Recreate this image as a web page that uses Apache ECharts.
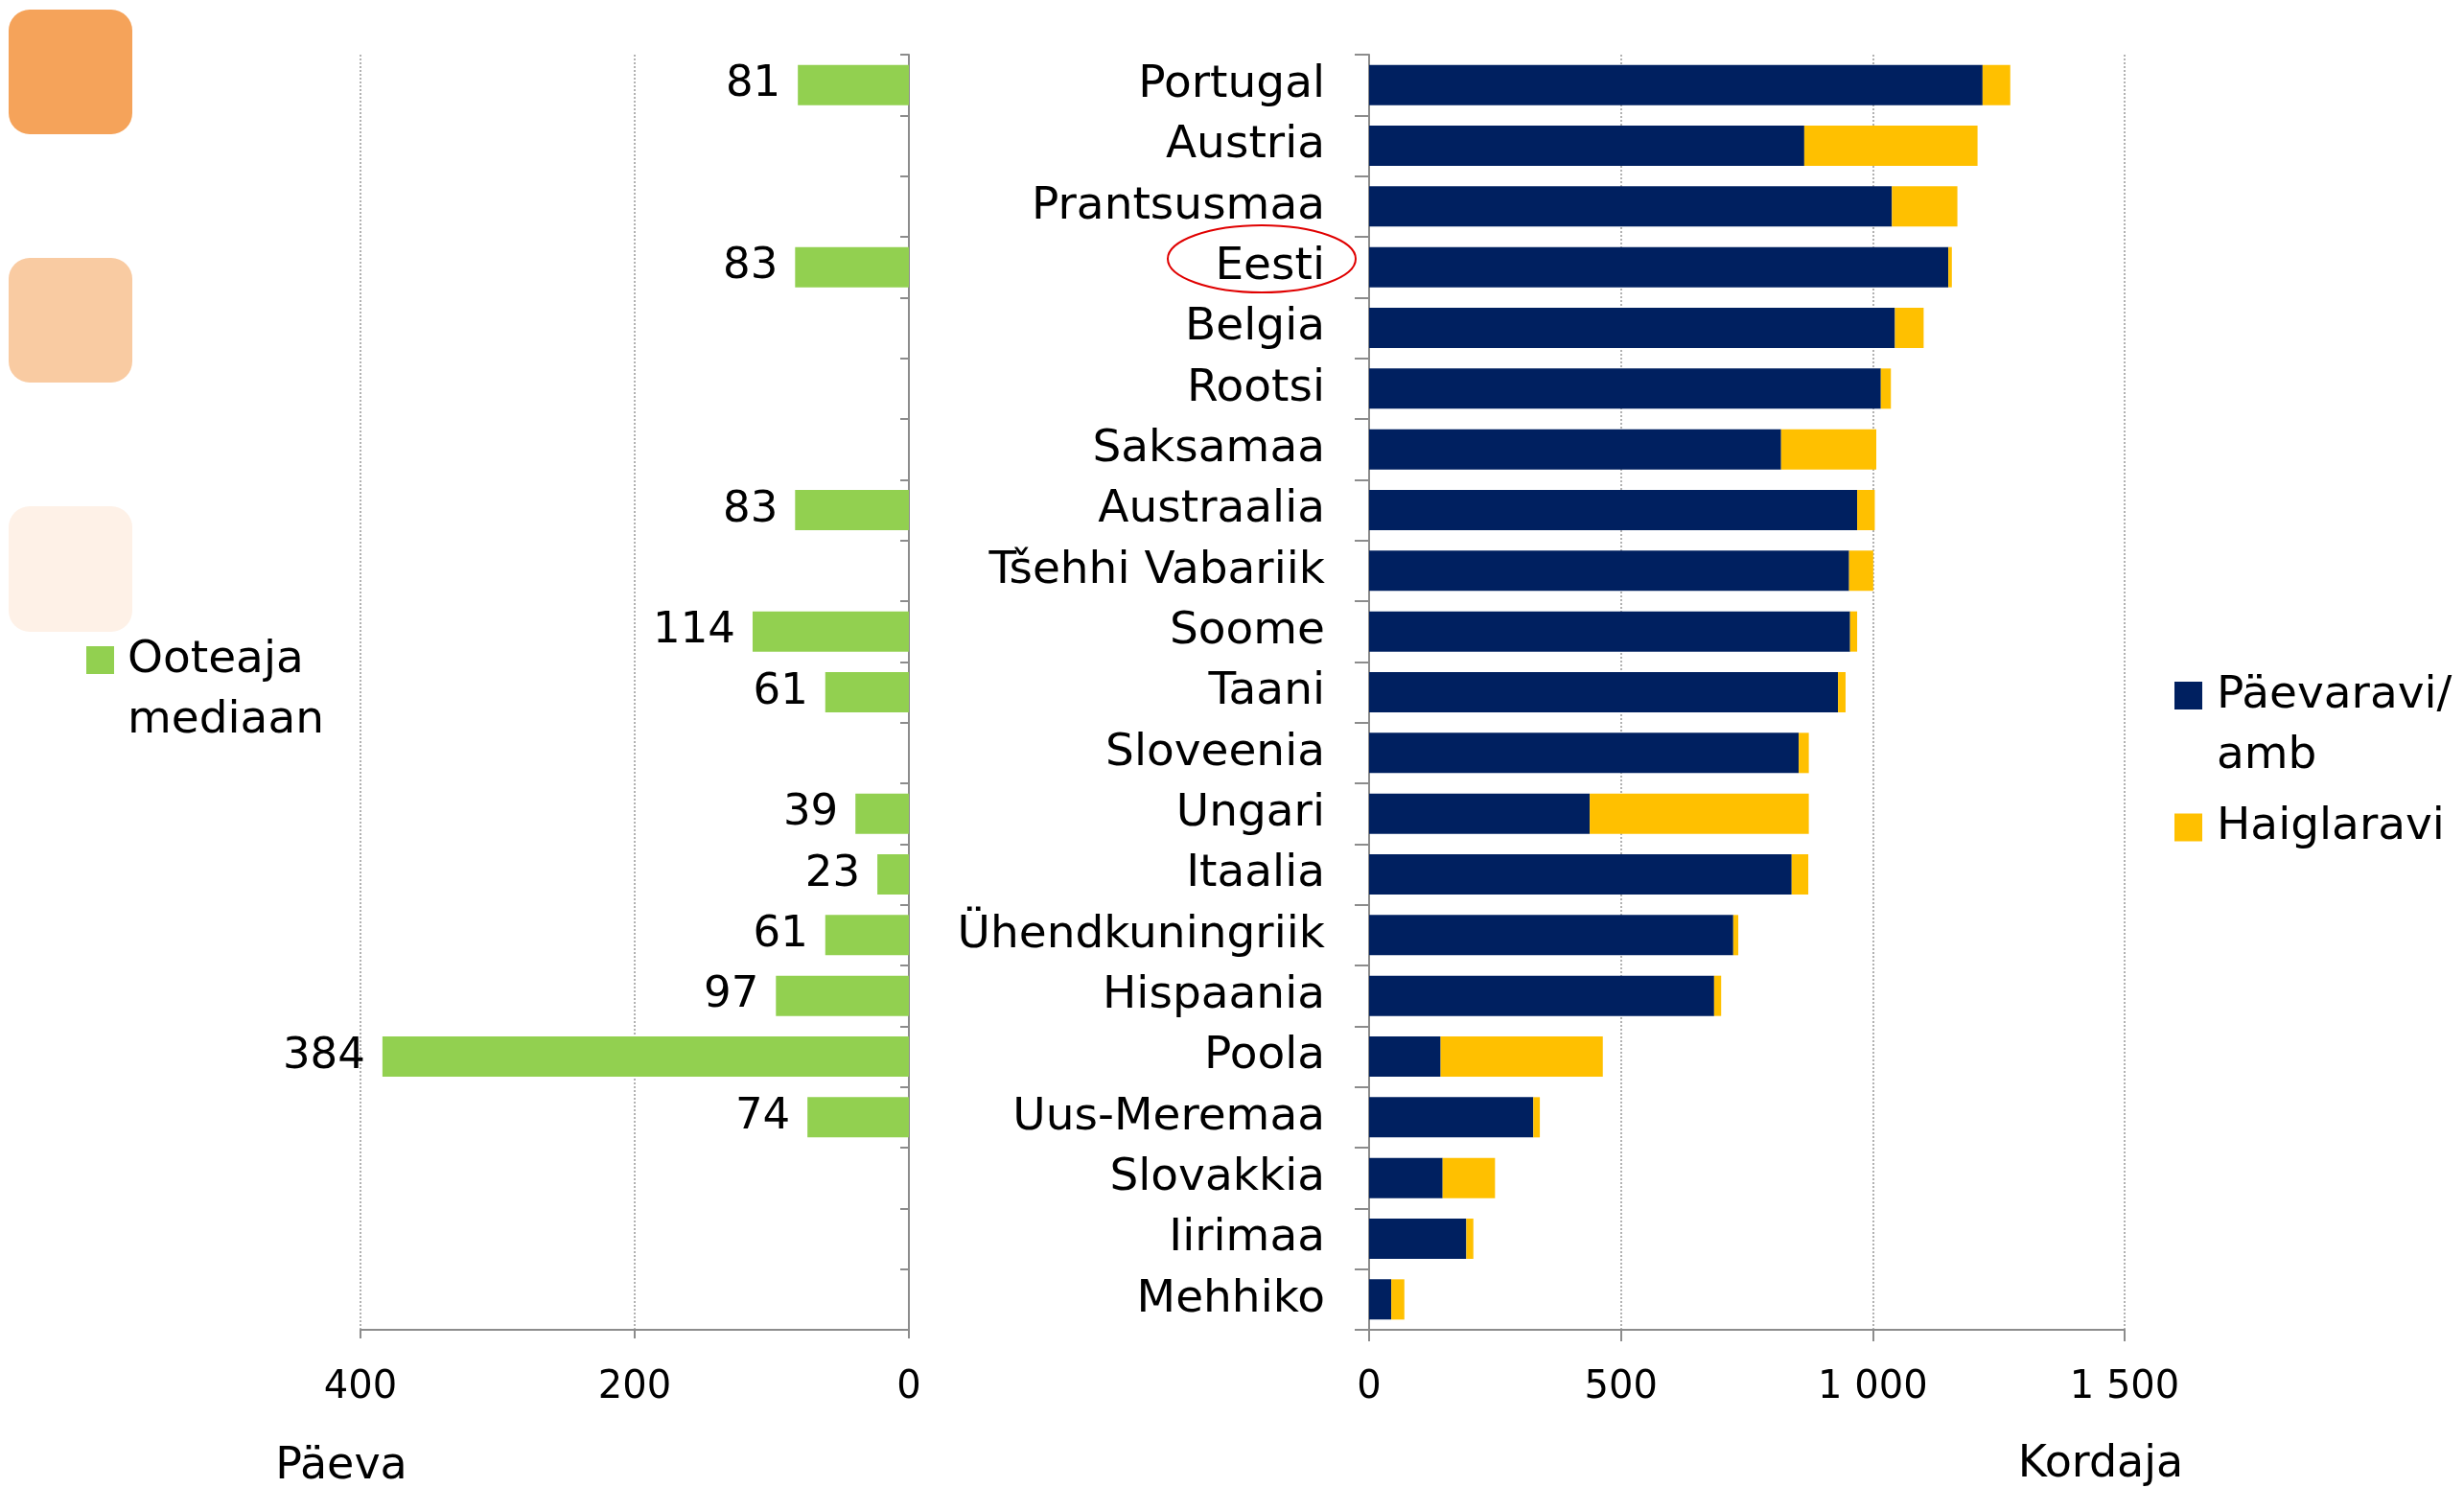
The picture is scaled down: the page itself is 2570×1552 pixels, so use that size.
<!DOCTYPE html>
<html><head><meta charset="utf-8">
<script src="https://cdn.jsdelivr.net/npm/echarts@6/dist/echarts.min.js"></script>
<style>html,body{margin:0;padding:0;background:#fff}#c{width:2570px;height:1552px}</style>
</head><body><div id="c"></div>
<script>
// ---- data ----
const categories = ['Portugal','Austria','Prantsusmaa','Eesti','Belgia','Rootsi','Saksamaa','Austraalia','Tšehhi Vabariik','Soome','Taani','Sloveenia','Ungari','Itaalia','Ühendkuningriik','Hispaania','Poola','Uus-Meremaa','Slovakkia','Iirimaa','Mehhiko'];
const paevaravi = [1218,864,1038,1150,1044,1016,818,969,953,955,931,853,438,839,723,685,142,326,146,193,44];
const haiglaravi = [55,344,130,7,57,20,189,35,48,14,15,20,435,33,10,14,322,13,104,14,26];
const ooteajaMediaan = [81,null,null,83,null,null,null,83,null,114,61,null,39,23,61,97,384,74,null,null,null];
const leftAxisTicks = [0, 200, 400];
const rightAxisTicks = [0, 500, 1000, 1500];
const seriesNames = ['Ooteaja mediaan', 'Päevaravi/amb', 'Haiglaravi'];
const legendLabels = {'Ooteaja mediaan': '\nOoteaja\nmediaan', 'Päevaravi/amb': '\nPäevaravi/\namb', 'Haiglaravi': 'Haiglaravi'};
const axisTitles = ['Päeva', 'Kordaja'];

// ---- chart ----
const FONT = '"DejaVu Sans", sans-serif';
const AXIS_COLOR = '#8c8c8c';
const chart = echarts.init(document.getElementById('c'), null, {renderer: 'canvas'});
const fmtNum = v => String(v).replace(/\B(?=(\d{3})+(?!\d))/g, ' ');

const option = {
  animation: false,
  backgroundColor: '#ffffff',
  textStyle: {fontFamily: FONT, color: '#000'},
  grid: [
    {left: 376, top: 57, width: 572, height: 1330},
    {left: 1428, top: 57, width: 788, height: 1330}
  ],
  xAxis: [
    {
      type: 'value', gridIndex: 0, inverse: true,
      min: leftAxisTicks[0], max: leftAxisTicks[leftAxisTicks.length - 1], interval: leftAxisTicks[1] - leftAxisTicks[0],
      axisLine: {show: true, lineStyle: {color: AXIS_COLOR, width: 2}},
      axisTick: {show: true, length: 9, lineStyle: {color: AXIS_COLOR, width: 2}},
      splitLine: {show: true, lineStyle: {color: '#999', type: [2, 2], width: 1.5}},
      axisLabel: {fontSize: 40, margin: 41, color: '#000', fontFamily: FONT, formatter: fmtNum}
    },
    {
      type: 'value', gridIndex: 1,
      min: rightAxisTicks[0], max: rightAxisTicks[rightAxisTicks.length - 1], interval: rightAxisTicks[1] - rightAxisTicks[0],
      axisLine: {show: true, lineStyle: {color: AXIS_COLOR, width: 2}},
      axisTick: {show: true, length: 12, lineStyle: {color: AXIS_COLOR, width: 2}},
      splitLine: {show: true, lineStyle: {color: '#999', type: [2, 2], width: 1.5}},
      axisLabel: {fontSize: 40, margin: 41, color: '#000', fontFamily: FONT, formatter: fmtNum}
    }
  ],
  yAxis: [
    {
      type: 'category', gridIndex: 0, data: categories, inverse: true, position: 'right',
      axisLine: {show: true, lineStyle: {color: AXIS_COLOR, width: 2}},
      axisTick: {show: true, inside: true, length: 9, lineStyle: {color: AXIS_COLOR, width: 2}},
      axisLabel: {show: false},
      splitLine: {show: false}
    },
    {
      type: 'category', gridIndex: 1, data: categories, inverse: true,
      axisLine: {show: true, lineStyle: {color: AXIS_COLOR, width: 2}},
      axisTick: {show: true, length: 15, lineStyle: {color: AXIS_COLOR, width: 2}},
      axisLabel: {fontSize: 47, margin: 46, color: '#000', fontFamily: FONT, padding: [7, 0, 0, 0]},
      splitLine: {show: false}
    }
  ],
  legend: [
    {
      orient: 'vertical', left: 90, top: 594, padding: 0,
      itemWidth: 29, itemHeight: 29, icon: 'rect',
      data: [{name: seriesNames[0]}],
      formatter: n => legendLabels[n],
      textStyle: {fontSize: 47, lineHeight: 63, color: '#000', fontFamily: FONT, padding: [0, 0, 0, 9]}
    },
    {
      orient: 'vertical', left: 2268, top: 631, padding: 0, itemGap: 11.5,
      itemWidth: 29, itemHeight: 29, icon: 'rect',
      data: [{name: seriesNames[1]}, {name: seriesNames[2]}],
      formatter: n => legendLabels[n],
      textStyle: {fontSize: 47, lineHeight: 63, color: '#000', fontFamily: FONT, padding: [0, 0, 0, 10]}
    }
  ],
  series: [
    {
      name: seriesNames[0], type: 'bar', xAxisIndex: 0, yAxisIndex: 0,
      data: ooteajaMediaan, barWidth: 42,
      itemStyle: {color: '#92D050'},
      label: {show: true, position: 'left', distance: 18, fontSize: 45, color: '#000', fontFamily: FONT, padding: [7, 0, 0, 0]}
    },
    {
      name: seriesNames[1], type: 'bar', xAxisIndex: 1, yAxisIndex: 1, stack: 'k',
      data: paevaravi, barWidth: 42,
      itemStyle: {color: '#002060'}
    },
    {
      name: seriesNames[2], type: 'bar', xAxisIndex: 1, yAxisIndex: 1, stack: 'k',
      data: haiglaravi, barWidth: 42,
      itemStyle: {color: '#FFC000'}
    }
  ],
  graphic: [
    {type: 'rect', z: 1, shape: {x: 9, y: 10, width: 129, height: 130, r: 22}, style: {fill: '#F5A35A'}},
    {type: 'rect', z: 1, shape: {x: 9, y: 269, width: 129, height: 130, r: 22}, style: {fill: '#F9CBA2'}},
    {type: 'rect', z: 1, shape: {x: 9, y: 528, width: 129, height: 131, r: 22}, style: {fill: '#FEF1E7'}},
    {type: 'text', z: 100, x: 356, y: 1530, style: {text: axisTitles[0], font: '46px ' + FONT, fill: '#000', align: 'center', verticalAlign: 'middle'}},
    {type: 'text', z: 100, x: 2191, y: 1528, style: {text: axisTitles[1], font: '46px ' + FONT, fill: '#000', align: 'center', verticalAlign: 'middle'}},
    {type: 'ellipse', z: 100, shape: {cx: 1316, cy: 270, rx: 98, ry: 35}, style: {fill: 'none', stroke: '#E00000', lineWidth: 2}}
  ]
};
chart.setOption(option);
</script>
</body></html>
